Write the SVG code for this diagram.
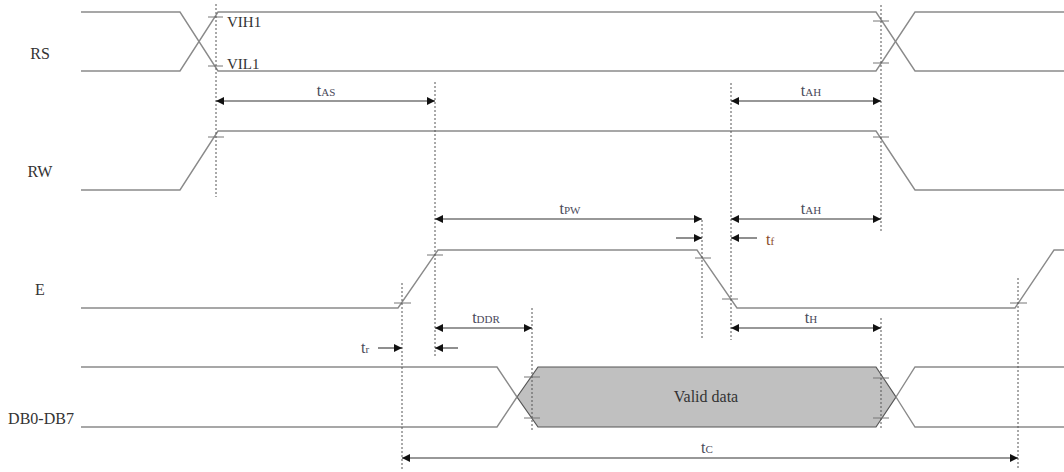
<svg xmlns="http://www.w3.org/2000/svg" width="1064" height="472" viewBox="0 0 1064 472" font-family="'Liberation Serif', 'DejaVu Serif', serif">
<defs>
<marker id="ah" viewBox="0 0 10 10" refX="10" refY="5" markerWidth="11" markerHeight="8" markerUnits="userSpaceOnUse" orient="auto-start-reverse">
<path d="M0,0 L10,5 L0,10 z" fill="#111"/>
</marker>
<style>
.sig{fill:none;stroke:#8a8a8a;stroke-width:1.4}
.tick{stroke:#777;stroke-width:1}
.dot{stroke:#555;stroke-width:1;stroke-dasharray:2,2;fill:none}
.dim{stroke:#333;stroke-width:1.1;fill:none;marker-end:url(#ah)}
.dim2{stroke:#333;stroke-width:1.1;fill:none;marker-start:url(#ah);marker-end:url(#ah)}
text{font-family:'Liberation Serif','DejaVu Serif',serif}
.name{font-size:16px;fill:#333;text-anchor:middle}
.lbl{font-size:16px;fill:#4a4a5a;text-anchor:middle}
.sub{font-size:11px}
.small{font-size:15px;fill:#333}
</style>
</defs>
<rect width="1064" height="472" fill="#fff"/>

<g id="labels">
<text class="name" x="40" y="59">RS</text>
<text class="name" x="40" y="177">RW</text>
<text class="name" x="40" y="295">E</text>
<text class="name" x="41" y="424">DB0-DB7</text>
</g>

<g id="RS">
<polyline class="sig" points="81,12 180,12 218,71 876,71 915,12 1064,12"/>
<polyline class="sig" points="81,71 180,71 218,12 876,12 915,71 1064,71"/>
<line class="tick" x1="208" y1="17" x2="223" y2="17"/>
<line class="tick" x1="208" y1="66" x2="223" y2="66"/>
<line class="tick" x1="873" y1="21" x2="889" y2="21"/>
<line class="tick" x1="873" y1="63" x2="889" y2="63"/>
<text class="small" x="227" y="27">VIH1</text>
<text class="small" x="227" y="69">VIL1</text>
</g>

<g id="RW">
<polyline class="sig" points="81,190 180,190 218,131 876,131 915,190 1064,190"/>
<line class="tick" x1="208" y1="137" x2="224" y2="137"/>
<line class="tick" x1="873" y1="137" x2="889" y2="137"/>
</g>

<g id="E">
<polyline class="sig" points="81,308 398,308 438,250 697,250 737,308 1015,308 1054,250 1064,250"/>
<line class="tick" x1="394" y1="303" x2="411" y2="303"/>
<line class="tick" x1="427" y1="255" x2="443" y2="255"/>
<line class="tick" x1="695" y1="258" x2="711" y2="258"/>
<line class="tick" x1="722" y1="299" x2="738" y2="299"/>
<line class="tick" x1="1010" y1="303" x2="1027" y2="303"/>
</g>

<g id="DB">
<polygon points="517,397 538,367 876,367 896,397 876,427 538,427" fill="#c0c0c0" stroke="#555" stroke-width="1.2"/>
<polyline class="sig" points="81,367 497,367 517,397"/>
<polyline class="sig" points="81,427 497,427 517,397"/>
<polyline class="sig" points="896,397 915,367 1064,367"/>
<polyline class="sig" points="896,397 915,427 1064,427"/>
<line class="tick" x1="524" y1="377" x2="540" y2="377"/>
<line class="tick" x1="524" y1="418" x2="540" y2="418"/>
<line class="tick" x1="873" y1="378" x2="889" y2="378"/>
<line class="tick" x1="873" y1="418" x2="889" y2="418"/>
<text class="name" x="706" y="402">Valid data</text>
</g>

<g id="connectors">
<line class="dot" x1="216" y1="4" x2="216" y2="197"/>
<line class="dot" x1="435" y1="82" x2="435" y2="357"/>
<line class="dot" x1="731" y1="83" x2="731" y2="340"/>
<line class="dot" x1="881" y1="5" x2="881" y2="233"/>
<line class="dot" x1="881" y1="318" x2="881" y2="430"/>
<line class="dot" x1="402" y1="283" x2="402" y2="470"/>
<line class="dot" x1="532" y1="308" x2="532" y2="430"/>
<line class="dot" x1="702" y1="220" x2="702" y2="340"/>
<line class="dot" x1="1018" y1="278" x2="1018" y2="470"/>

<line class="dim2" x1="216" y1="101" x2="435" y2="101"/>
<line class="dim2" x1="731" y1="101" x2="881" y2="101"/>
<line class="dim2" x1="435" y1="219" x2="702" y2="219"/>
<line class="dim2" x1="731" y1="219" x2="881" y2="219"/>
<line class="dim" x1="676" y1="238" x2="702" y2="238"/>
<line class="dim" x1="757" y1="238" x2="731" y2="238"/>
<line class="dim2" x1="435" y1="328" x2="532" y2="328"/>
<line class="dim2" x1="731" y1="328" x2="881" y2="328"/>
<line class="dim" x1="378" y1="348" x2="402" y2="348"/>
<line class="dim" x1="458" y1="348" x2="435" y2="348"/>
<line class="dim2" x1="402" y1="458" x2="1018" y2="458"/>

<text class="lbl" x="326" y="96">t<tspan class="sub">AS</tspan></text>
<text class="lbl" x="811" y="96">t<tspan class="sub">AH</tspan></text>
<text class="lbl" x="570" y="214">t<tspan class="sub">PW</tspan></text>
<text class="lbl" x="811" y="214">t<tspan class="sub">AH</tspan></text>
<text class="lbl" x="770" y="245" style="fill:#8a4a28">t<tspan class="sub">f</tspan></text>
<text class="lbl" x="486" y="323">t<tspan class="sub">DDR</tspan></text>
<text class="lbl" x="811" y="323">t<tspan class="sub">H</tspan></text>
<text class="lbl" x="365" y="353">t<tspan class="sub">r</tspan></text>
<text class="lbl" x="707" y="453">t<tspan class="sub">C</tspan></text>
</g>
</svg>
